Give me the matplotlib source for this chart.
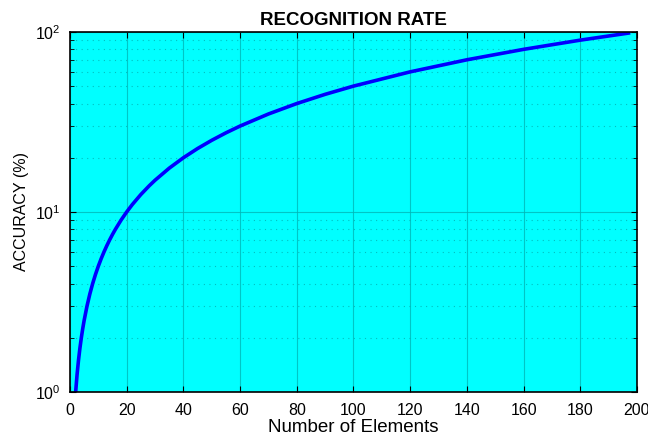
import matplotlib
matplotlib.use("Agg")
import matplotlib.pyplot as plt
from matplotlib.ticker import LogLocator

plt.rcParams['font.family'] = ['Liberation Sans', 'DejaVu Sans']

# values
elements = [2, 2.5, 3, 3.5, 4, 4.5, 5, 6, 7, 8, 9, 10, 11, 12, 13, 14, 15, 16, 18, 20,
            22, 25, 28, 30, 35, 40, 45, 50, 55, 60, 70, 80, 90, 100, 120, 140, 160,
            180, 197]
accuracy = [1, 1.25, 1.5, 1.75, 2, 2.25, 2.5, 3, 3.5, 4, 4.5, 5, 5.5, 6, 6.5, 7, 7.5,
            8, 9, 10, 11, 12.5, 14, 15, 17.5, 20, 22.5, 25, 27.5, 30, 35, 40, 45, 50,
            60, 70, 80, 90, 98.5]

x_ticks = [0, 20, 40, 60, 80, 100, 120, 140, 160, 180, 200]

fig = plt.figure(figsize=(6.48, 4.37), dpi=100)
ax = fig.add_axes([0.108, 0.103, 0.875, 0.824])
ax.set_facecolor('#00ffff')

ax.plot(elements, accuracy, color='#0000ff', lw=2.6)

ax.set_yscale('log')
ax.set_xlim(0, 200)
ax.set_ylim(1, 100)
ax.set_xticks(x_ticks)
ax.yaxis.set_major_locator(LogLocator(base=10))
ax.yaxis.set_minor_locator(LogLocator(base=10, subs=range(2, 10)))

ax.grid(True, which='major', color='#00b8b8', lw=0.8, alpha=0.8)
ax.grid(True, which='minor', axis='y', color='#00b0b0', lw=0.8, ls=(0, (1, 4)), alpha=0.8)
ax.set_axisbelow(True)

ax.tick_params(which='both', direction='in', top=True, right=True, labelsize=11.5)
ax.tick_params(axis='x', pad=8)
ax.tick_params(axis='y', pad=7)
ax.tick_params(which='major', length=4)
ax.tick_params(which='minor', length=3)
ax.tick_params(axis='x', which='minor', bottom=False, top=False)
for s in ax.spines.values():
    s.set_linewidth(1.2)

ax.set_title('RECOGNITION RATE', fontsize=13.5, fontweight='bold', pad=5)
ax.set_xlabel('Number of Elements', fontsize=13.5, labelpad=1)
ax.set_ylabel('ACCURACY (%)', fontsize=11.5, labelpad=4)

fig.savefig('out.png', dpi=100)
